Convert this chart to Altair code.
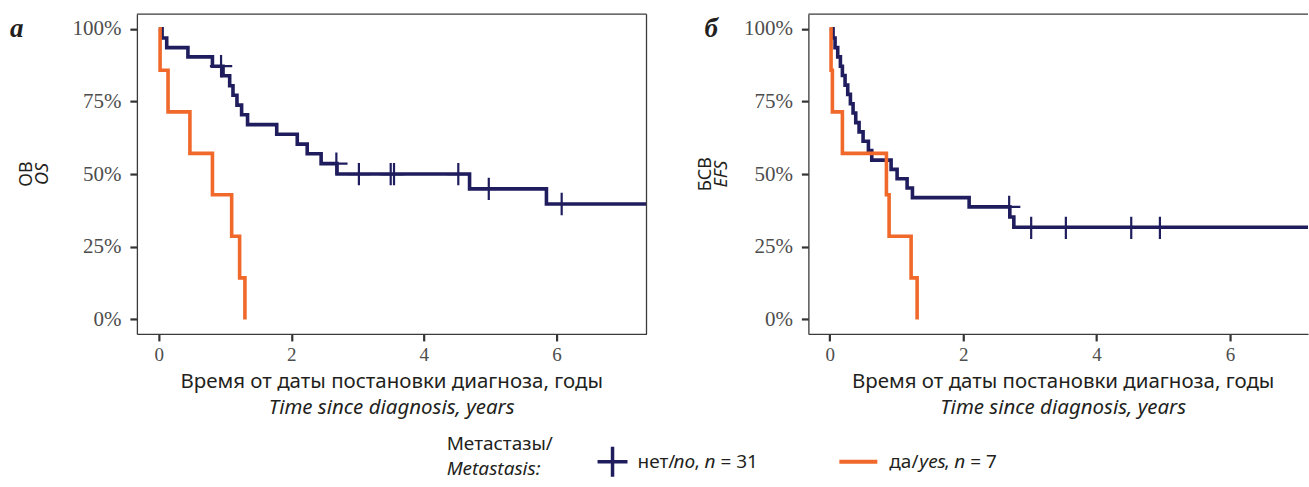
import altair as alt
import pandas as pd

NAVY = "#1f1d5e"
ORANGE = "#f0682a"
INK = "#231f20"
GREY = "#4d4d4d"
SANS = "Noto Sans"
SERIF = "Liberation Serif"

# ---- Overall survival (ОВ / OS): step points (time in years, survival) ----
os_no_t = [0, 0.05, 0.12, 0.44, 0.81, 0.97, 1.07, 1.12, 1.18, 1.25, 1.34,
           1.78, 2.09, 2.24, 2.45, 2.69, 4.69, 5.85, 7.5]
os_no_s = [1.0, 0.968, 0.935, 0.903, 0.871, 0.838, 0.804, 0.771, 0.737, 0.704, 0.670,
           0.637, 0.603, 0.570, 0.536, 0.500, 0.449, 0.397, 0.397]
os_yes_t = [0, 0.02, 0.14, 0.47, 0.81, 1.10, 1.22, 1.30]
os_yes_s = [1.0, 0.857, 0.714, 0.571, 0.429, 0.286, 0.143, 0.0]
os_cens_t = [0.94, 2.68, 3.02, 3.50, 3.55, 4.52, 4.98, 6.08]
os_cens_s = [0.871, 0.536, 0.500, 0.500, 0.500, 0.500, 0.449, 0.397]

# ---- Event-free survival (БСВ / EFS) ----
efs_no_t = [0, 0.05, 0.08, 0.12, 0.16, 0.19, 0.23, 0.27, 0.31, 0.35, 0.39, 0.44,
            0.50, 0.58, 0.63, 0.92, 1.01, 1.16, 1.24, 2.09, 2.70, 2.76, 7.5]
efs_no_s = [1.0, 0.968, 0.935, 0.903, 0.871, 0.839, 0.806, 0.774, 0.742, 0.710,
            0.677, 0.645, 0.613, 0.581, 0.548, 0.516, 0.484, 0.452, 0.419, 0.387,
            0.352, 0.317, 0.317]
efs_yes_t = [0, 0.02, 0.04, 0.19, 0.85, 0.89, 1.22, 1.31]
efs_yes_s = [1.0, 0.857, 0.714, 0.571, 0.429, 0.286, 0.143, 0.0]
efs_cens_t = [2.69, 3.02, 3.54, 4.52, 4.95]
efs_cens_s = [0.387, 0.315, 0.315, 0.315, 0.315]

groups = ["no", "yes"]
x_ticks = [0, 2, 4, 6]
y_ticks = [0, 0.25, 0.5, 0.75, 1.0]

PLUS = "M-1,0L1,0M0,-1L0,1"
ONE = alt.Data(values=[{}])
H = 320


def curves(t_no, s_no, t_yes, s_yes):
    return pd.concat([
        pd.DataFrame({"t": t_no, "s": s_no, "grp": groups[0]}),
        pd.DataFrame({"t": t_yes, "s": s_yes, "grp": groups[1]}),
    ])


def txt(s, x, y, size=19, font=SANS, style="normal", weight="normal",
        align="left", baseline="alphabetic", angle=0, color=INK):
    return alt.Chart(ONE).mark_text(
        text=s, font=font, fontSize=size, fontStyle=style, fontWeight=weight,
        align=align, baseline=baseline, angle=angle, color=color,
    ).encode(x=alt.value(x), y=alt.value(y))


def rule(**enc):
    return alt.Chart(ONE).mark_rule(color="#3a3a3a", strokeWidth=1.3).encode(**enc)


def panel(df, cens, xdom, width, letter, letter_x, ytitle, ytitle_it, yt_x, right_border):
    x = alt.X("t:Q", scale=alt.Scale(domain=xdom, nice=False, zero=False),
              axis=alt.Axis(values=x_ticks, title=None, grid=False, format="d",
                            labelFontSize=19, labelPadding=5))
    y = alt.Y("s:Q", scale=alt.Scale(domain=[-0.05, 1.05], nice=False),
              axis=alt.Axis(values=y_ticks, title=None, grid=False, format=".0%",
                            labelFontSize=21, labelPadding=9))
    color = alt.Color("grp:N", scale=alt.Scale(domain=groups, range=[NAVY, ORANGE]), legend=None)

    lines = alt.Chart(df).mark_line(
        interpolate="step-after", strokeWidth=3.6, clip=True, strokeCap="butt"
    ).encode(x=x, y=y, color=color, order="t:Q")
    marks = alt.Chart(cens).mark_point(
        shape=PLUS, size=500, strokeWidth=2.2, filled=False, opacity=1, color=NAVY
    ).encode(x="t:Q", y="s:Q")

    layers = [lines, marks,
              rule(x=alt.value(0), x2=alt.value(width), y=alt.value(0)),
              txt(letter, letter_x, 23, size=27, font=SERIF, style="italic", weight="bold"),
              txt(ytitle, yt_x, H / 2, size=18, align="center", baseline="middle", angle=270),
              txt(ytitle_it, yt_x + 16, H / 2, size=18, style="italic", align="center",
                  baseline="middle", angle=270),
              txt("Время от даты постановки диагноза, годы", 255, 374, size=20.5,
                  align="center"),
              txt("Time since diagnosis, years", 255, 400, size=20.5, style="italic",
                  align="center")]
    if right_border:
        layers.append(rule(x=alt.value(width), y=alt.value(0), y2=alt.value(H)))
    return alt.layer(*layers).properties(width=width, height=H)


os_df = curves(os_no_t, os_no_s, os_yes_t, os_yes_s)
efs_df = curves(efs_no_t, efs_no_s, efs_yes_t, efs_yes_s)
os_c = pd.DataFrame({"t": os_cens_t, "s": os_cens_s})
efs_c = pd.DataFrame({"t": efs_cens_t, "s": efs_cens_s})

left = panel(os_df, os_c, [-0.33, 7.36], 510, "а", -127, "ОВ", "OS", -110, True)
right = panel(efs_df, efs_c, [-0.32, 7.17], 500, "б", -104, "БСВ", "EFS", -102, False)

# shared legend, drawn under both panels
LY = 448
legend = [
    txt("Метастазы/", 310, 436),
    txt("Metastasis:", 310, 461, style="italic"),
    alt.Chart(ONE).mark_point(shape=PLUS, size=900, strokeWidth=3.5, filled=False,
                              opacity=1, color=NAVY).encode(x=alt.value(476), y=alt.value(LY)),
    txt("нет/", 501, LY, baseline="middle"),
    txt("no", 537, LY, style="italic", baseline="middle"),
    txt(",", 558, LY, baseline="middle"),
    txt("n", 568, LY, style="italic", baseline="middle"),
    txt("= 31", 584, LY, baseline="middle"),
    alt.Chart(ONE).mark_rule(color=ORANGE, strokeWidth=4).encode(
        x=alt.value(703), x2=alt.value(741), y=alt.value(LY)),
    txt("да/", 753, LY, baseline="middle"),
    txt("yes", 783, LY, style="italic", baseline="middle"),
    txt(",", 808, LY, baseline="middle"),
    txt("n", 818, LY, style="italic", baseline="middle"),
    txt("= 7", 834, LY, baseline="middle"),
]
left = alt.layer(left, *legend)

chart = alt.hconcat(left, right, spacing=162, bounds="flush").properties(
    padding={"left": 10, "top": 13, "right": 0, "bottom": 0}
).configure_view(stroke=None).configure_axis(
    labelFont=SERIF, labelColor=GREY,
    tickColor="#333333", tickWidth=2.2, tickSize=7, labelPadding=8,
    domainColor="#3a3a3a", domainWidth=1.3,
)

chart.save("out.html", embed_options={"renderer": "svg", "actions": False})
